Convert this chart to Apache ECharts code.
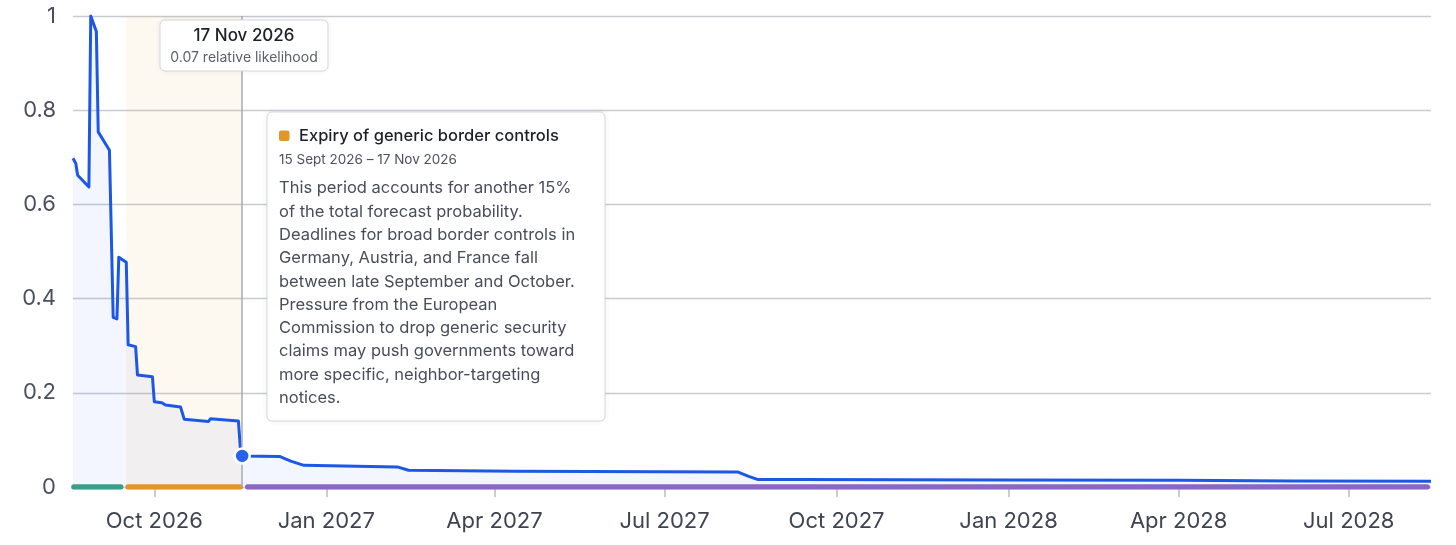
<!DOCTYPE html>
<html>
<head>
<meta charset="utf-8">
<script src="https://cdn.jsdelivr.net/npm/echarts@6.0.0/dist/echarts.min.js"></script>
<style>
  html, body { margin: 0; padding: 0; background: #fff; }
  #chart { width: 1456px; height: 545px; }
</style>
</head>
<body>
<div id="chart"></div>
<script type="application/javascript">

// relative likelihood
var lineDates = ['2026-08-18 12', '2026-08-20', '2026-08-21', '2026-08-27', '2026-08-28', '2026-08-31',
    '2026-09-01', '2026-09-07', '2026-09-09', '2026-09-11', '2026-09-12', '2026-09-16', '2026-09-17',
    '2026-09-21', '2026-09-22', '2026-09-30', '2026-10-01', '2026-10-05', '2026-10-07', '2026-10-15',
    '2026-10-17', '2026-10-30', '2026-10-31', '2026-11-15', '2026-11-16', '2026-11-17', '2026-12-07',
    '2026-12-13', '2026-12-20', '2027-02-08', '2027-02-14', '2027-04-12', '2027-08-09', '2027-08-15',
    '2027-08-20', '2027-09-11', '2028-01-01', '2028-04-01', '2028-06-01', '2028-08-14'];
var lineValues = [0.698, 0.687, 0.662, 0.637, 1.0, 0.967,
    0.754, 0.715, 0.36, 0.357, 0.488, 0.477, 0.302,
    0.298, 0.238, 0.234, 0.181, 0.179, 0.174, 0.170,
    0.144, 0.139, 0.145, 0.140, 0.084, 0.066, 0.065,
    0.055, 0.046, 0.0426, 0.0355, 0.0334, 0.032, 0.0227,
    0.0157, 0.0157, 0.015, 0.0145, 0.013, 0.012];

// periods drawn along the zero line
var periodStarts = ['2026-08-19', '2026-09-17', '2026-11-20'];
var periodEnds   = ['2026-09-13', '2026-11-16', '2028-08-12'];
var periodColors = ['#3a9e88', '#e0962a', '#8a67c2'];

// hovered period + hover point
var hoverStart = '2026-09-16';
var hoverEnd = '2026-11-17';
var hoverDate = '2026-11-17';
var hoverValue = 0.066;

var axisStart = '2026-08-18 12';
var axisEnd = '2028-08-14';
var tickDates = ['2026-10-01', '2027-01-01', '2027-04-01', '2027-07-01', '2027-10-01', '2028-01-01', '2028-04-01', '2028-07-01'];
var tickLabels = ['Oct 2026', 'Jan 2027', 'Apr 2027', 'Jul 2027', 'Oct 2027', 'Jan 2028', 'Apr 2028', 'Jul 2028'];

var tipTitle = '17 Nov 2026';
var tipSub = '0.07 relative likelihood';
var boxTitle = 'Expiry of generic border controls';
var boxDates = '15 Sept 2026 \u2013 17 Nov 2026';
var boxLines = ['This period accounts for another 15%', 'of the total forecast probability.',
    'Deadlines for broad border controls in', 'Germany, Austria, and France fall',
    'between late September and October.', 'Pressure from the European',
    'Commission to drop generic security', 'claims may push governments toward',
    'more specific, neighbor-targeting', 'notices.'];

var FONT = 'Inter, "Noto Sans", sans-serif';

// 'YYYY-MM-DD' or 'YYYY-MM-DD HH' -> ms (UTC, so no DST wobble)
function toTime(s) {
    var parts = s.split(' ');
    var d = parts[0].split('-');
    var h = parts.length > 1 ? +parts[1] : 0;
    return Date.UTC(+d[0], +d[1] - 1, +d[2], h);
}

var tickTimes = tickDates.map(toTime);

var lineData = [];
for (var i = 0; i < lineDates.length; i++) {
    lineData.push([toTime(lineDates[i]), lineValues[i]]);
}

var series = [{
    type: 'line',
    data: lineData,
    showSymbol: false,
    silent: true,
    z: 2,
    lineStyle: {color: '#1c58e3', width: 3, join: 'round'},
    areaStyle: {color: 'rgba(37,99,235,0.08)'},
    markArea: {
        silent: true,
        itemStyle: {color: 'rgba(224,150,42,0.07)'},
        data: [[{xAxis: toTime(hoverStart)}, {xAxis: toTime(hoverEnd)}]]
    },
    markLine: {
        silent: true,
        symbol: ['none', 'none'],
        label: {show: false},
        lineStyle: {color: '#a7abb4', width: 1.5, type: 'solid'},
        data: [{xAxis: toTime(hoverDate)}]
    },
    markPoint: {
        silent: true,
        symbol: 'circle',
        symbolSize: 15,
        label: {show: false},
        itemStyle: {color: '#2563eb', borderColor: '#fff', borderWidth: 2.5},
        data: [{coord: [toTime(hoverDate), hoverValue]}]
    }
}];

for (var p = 0; p < periodStarts.length; p++) {
    series.push({
        type: 'line',
        data: [[toTime(periodStarts[p]), 0], [toTime(periodEnds[p]), 0]],
        showSymbol: false,
        silent: true,
        z: 4,
        lineStyle: {color: periodColors[p], width: 5.5, cap: 'round'}
    });
}

var graphic = [
    {type: 'rect', x: 160, y: 20, z: 100,
        shape: {width: 168, height: 51, r: 5},
        style: {fill: '#fff', stroke: '#d4d7de', lineWidth: 1, shadowBlur: 6, shadowColor: 'rgba(0,0,0,0.06)'}},
    {type: 'text', x: 244, y: 36, z: 101,
        style: {text: tipTitle, align: 'center', verticalAlign: 'middle',
            font: '500 17px ' + FONT, fill: '#1d2029'}},
    {type: 'text', x: 244, y: 57.5, z: 101,
        style: {text: tipSub, align: 'center', verticalAlign: 'middle',
            font: '14px ' + FONT, fill: '#5a606c'}},

    {type: 'rect', x: 267, y: 112, z: 100,
        shape: {width: 338, height: 309, r: 5},
        style: {fill: '#fff', stroke: '#d4d7de', lineWidth: 1, shadowBlur: 6, shadowColor: 'rgba(0,0,0,0.06)'}},
    {type: 'rect', x: 279, y: 130.5, z: 101,
        shape: {width: 10.5, height: 10.5, r: 2},
        style: {fill: '#e0962a'}},
    {type: 'text', x: 299, y: 136, z: 101,
        style: {text: boxTitle, align: 'left', verticalAlign: 'middle',
            font: '500 16.5px ' + FONT, fill: '#1d2029'}},
    {type: 'text', x: 279, y: 160, z: 101,
        style: {text: boxDates, align: 'left', verticalAlign: 'middle',
            font: '13.5px ' + FONT, fill: '#4b5160'}},
    {type: 'text', x: 279, y: 176.7, z: 101,
        style: {text: boxLines.join('\n'), align: 'left', verticalAlign: 'top',
            font: '16.5px ' + FONT, lineHeight: 23.3, fill: '#474d5a'}}
];

var myChart = echarts.init(document.getElementById('chart'));
var option = {
    animation: false,
    backgroundColor: '#fff',
    grid: {left: 73, right: 25, top: 16, bottom: 58, containLabel: false, outerBoundsMode: 'none'},
    xAxis: {
        type: 'value',
        min: toTime(axisStart),
        max: toTime(axisEnd),
        axisLine: {show: false},
        splitLine: {show: false},
        axisTick: {show: true, customValues: tickTimes, length: 10, lineStyle: {color: '#b9bcc4', width: 1.5}},
        axisLabel: {
            customValues: tickTimes,
            margin: 23,
            fontSize: 22,
            fontFamily: FONT,
            color: '#3f4451',
            formatter: function (val) {
                var k = tickTimes.indexOf(val);
                return k >= 0 ? tickLabels[k] : '';
            }
        }
    },
    yAxis: {
        type: 'value',
        min: 0,
        max: 1,
        interval: 0.2,
        axisLine: {show: false},
        axisTick: {show: false},
        splitLine: {lineStyle: {color: '#c8cbd4', width: 1.3}},
        axisLabel: {margin: 17, fontSize: 22, fontFamily: FONT, color: '#4b5060'}
    },
    series: series,
    graphic: graphic
};
myChart.setOption(option);
</script>
</body>
</html>
